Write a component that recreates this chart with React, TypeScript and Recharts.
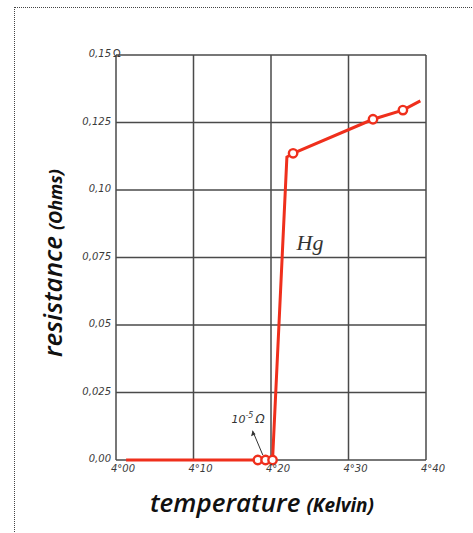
import React from "react";
import {
  ComposedChart,
  Line,
  XAxis,
  YAxis,
  CartesianGrid,
  ReferenceDot,
  ReferenceLine,
} from "recharts";

// temperature (K) and resistance (Ohm) of the mercury sample
const temperatures = [4.013, 4.183, 4.193, 4.202, 4.2205, 4.2285, 4.3316, 4.3702, 4.3927];
const resistances = [0, 0, 0, 0, 0.1122, 0.1136, 0.1262, 0.1296, 0.133];
const measured = [false, true, true, true, false, true, true, true, false];

const xTicks = [4.0, 4.1, 4.2, 4.3, 4.4];
const xTickLabels = ["4°00", "4°10", "4°20", "4°30", "4°40"];
const yTicks = [0, 0.025, 0.05, 0.075, 0.1, 0.125, 0.15];
const yTickLabels = ["0,00", "0,025", "0,05", "0,075", "0,10", "0,125", "0,15"];

const data = temperatures.map((t, i) => ({ t, r: resistances[i], m: measured[i] }));

const RED = "#ef2f1c";
const TICK_FONT = "'DejaVu Sans', sans-serif";

const YTick = (props: any) => {
  const { x, y, payload } = props;
  const idx = yTicks.indexOf(payload.value);
  const label = yTickLabels[idx] ?? "";
  const isTop = idx === yTicks.length - 1;
  return (
    <g>
      <text
        x={x - 5}
        y={y + 2}
        textAnchor="end"
        fontFamily={TICK_FONT}
        fontStyle="italic"
        fontSize={10}
        fill="#3a3a3a"
      >
        {label}
      </text>
      {isTop && (
        <text x={x - 3} y={y + 2} fontFamily={TICK_FONT} fontSize={10} fill="#3a3a3a">
          Ω
        </text>
      )}
    </g>
  );
};

const XTick = (props: any) => {
  const { x, y, payload } = props;
  const idx = xTicks.indexOf(payload.value);
  const label = xTickLabels[idx] ?? "";
  return (
    <text
      x={x + 7}
      y={y + 12}
      textAnchor="middle"
      fontFamily={TICK_FONT}
      fontStyle="italic"
      fontSize={10}
      fill="#3a3a3a"
    >
      {label}
    </text>
  );
};

const Dot = (props: any) => {
  const { cx, cy, payload, index } = props;
  if (!payload || !payload.m) return <g key={`d${index}`} />;
  return (
    <circle
      key={`d${index}`}
      cx={cx}
      cy={cy}
      r={4.2}
      fill="#ffffff"
      stroke={RED}
      strokeWidth={2.4}
    />
  );
};

const HgLabel = (props: any) => {
  const { viewBox } = props;
  const x = viewBox?.x ?? viewBox?.cx ?? 0;
  const y = viewBox?.y ?? viewBox?.cy ?? 0;
  return (
    <text
      x={x}
      y={y}
      fontFamily="'Liberation Serif', serif"
      fontStyle="italic"
      fontSize={22}
      fill="#333"
    >
      Hg
    </text>
  );
};

const TenLabel = (props: any) => {
  const { viewBox } = props;
  const x = viewBox?.x ?? viewBox?.cx ?? 0;
  const y = viewBox?.y ?? viewBox?.cy ?? 0;
  return (
    <text x={x} y={y} fontFamily={TICK_FONT} fontStyle="italic" fontSize={11} fill="#333">
      10
      <tspan dy={-5} fontSize={8}>
        -5
      </tspan>
      <tspan dy={5} dx={2} fontSize={12}>
        Ω
      </tspan>
    </text>
  );
};

const XTitle = (props: any) => {
  const { viewBox } = props;
  const x = viewBox?.x ?? 0;
  return (
    <text x={x + 34} y={512} fontFamily="'Open Sans', sans-serif" fontStyle="italic" fill="#111">
      <tspan fontSize={26} fontWeight={600}>temperature</tspan>
      <tspan fontSize={19} fontWeight={700} dx={6}>(Kelvin)</tspan>
    </text>
  );
};

const YTitle = () => {
  return (
    <text
      x={62}
      y={357}
      transform="rotate(-90, 62, 357)"
      fontFamily="'Open Sans', sans-serif"
      fontStyle="italic"
      fill="#111"
    >
      <tspan fontSize={26} fontWeight={600}>resistance</tspan>
      <tspan fontSize={18} fontWeight={700} dx={6}>(Ohms)</tspan>
    </text>
  );
};

export default function App() {
  return (
    <div
      style={{
        position: "absolute",
        left: 0,
        top: 0,
        width: 473,
        height: 533,
        background: "#ffffff",
      }}
    >
      <div
        style={{
          position: "absolute",
          left: 14,
          top: 7,
          width: 459,
          height: 526,
          borderLeft: "1.5px dotted #444",
          borderTop: "1.5px dotted #444",
        }}
      />
      <div style={{ position: "absolute", left: 0, top: 0 }}>
        <ComposedChart
          width={473}
          height={533}
          data={data}
          margin={{ top: 55, right: 47, bottom: 43, left: 56 }}
        >
          <CartesianGrid stroke="#4a4a4a" strokeWidth={1.5} fill="none" />
          <XAxis
            type="number"
            dataKey="t"
            domain={[4.0, 4.4]}
            ticks={xTicks}
            tick={<XTick />}
            tickLine={false}
            axisLine={false}
            tickSize={0}
            tickMargin={0}
            height={30}
            interval={0}
            label={<XTitle />}
          />
          <YAxis
            type="number"
            domain={[0, 0.15]}
            ticks={yTicks}
            tick={<YTick />}
            tickLine={false}
            axisLine={false}
            tickSize={0}
            tickMargin={0}
            width={60}
            interval={0}
            label={<YTitle />}
          />
          <ReferenceLine
            segment={[
              { x: 4.1894, y: 0.00185 },
              { x: 4.1762, y: 0.01085 },
            ]}
            stroke="#333"
            strokeWidth={1}
          />
          <ReferenceDot
            x={4.1762}
            y={0.01085}
            r={0}
            label={(p: any) => {
              const cx = p.viewBox?.x ?? 0;
              const cy = p.viewBox?.y ?? 0;
              return <path d={`M${cx},${cy} l-1.5,5.5 l4.5,-2 z`} fill="#333" />;
            }}
          />
          <ReferenceDot x={4.149} y={0.0137} r={0} label={<TenLabel />} />
          <ReferenceDot x={4.233} y={0.0778} r={0} label={<HgLabel />} />
          <Line
            type="linear"
            dataKey="r"
            stroke={RED}
            strokeWidth={3}
            dot={<Dot />}
            activeDot={false}
            isAnimationActive={false}
          />
        </ComposedChart>
      </div>
    </div>
  );
}
